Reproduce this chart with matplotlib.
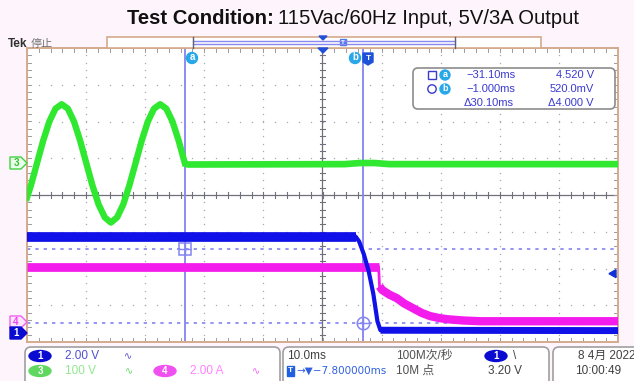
import numpy as np
import matplotlib.pyplot as plt
from matplotlib.patches import FancyBboxPatch, Rectangle, Circle, Ellipse, Polygon

plt.rcParams['font.family'] = ['Liberation Sans', 'Noto Sans CJK SC', 'DejaVu Sans']

W, H = 634, 381

# scope settings: units per division, ground position in divisions
ch1_scale, ch1_pos = 2.0, -3.74    # blue, output voltage (V)
ch3_scale, ch3_pos = 100.0, 0.87   # green, AC input (V)
ch4_scale, ch4_pos = 2.0, -3.46    # magenta, output current (A)
t_center, t_div = -7.8, 10.0       # ms

# waveforms, time in ms
ac_t = [-57.8, -57.14, -56.10, -55.06, -54.02, -52.98, -51.93, -50.89, -49.85,
        -48.81, -47.77, -46.73, -45.68, -44.64, -43.60, -42.56, -41.52, -40.48,
        -39.43, -38.39, -37.35, -36.31, -35.27, -34.23, -33.18, -32.14, -31.10]
ac_v = [-94, -61, 0, 61, 113, 148, 160, 148, 113, 61, 0, -61, -113, -148, -162,
        -148, -113, -61, 0, 61, 113, 148, 160, 148, 113, 61, 0]
ac_off_t = [-31.1, -30.5, -4.0, -1.5, 1.0, 3.5, 42.2]
ac_off_v = [-2, -4, -3, 0, 0, -3, -3]

vout_t = [-57.8, -2.2, -1.6, -0.8, 0.0, 0.8, 1.5, 2.0, 42.2]
vout_v = [5.22, 5.22, 4.95, 4.25, 3.35, 2.1, 0.6, 0.12, 0.1]

iout_t = [-57.8, 1.7, 1.85, 2.3, 3.5, 4.8, 6.0, 7.5, 9.0, 10.4, 12.0, 13.3, 16.0, 19.0, 42.2]
iout_a = [3.0, 3.0, 1.95, 1.75, 1.5, 1.3, 1.02, 0.76, 0.5, 0.33, 0.22, 0.16, 0.09, 0.05, 0.05]

# cursors
cur_a_t, cur_b_t = -31.1, -1.0
cur_a_v, cur_b_v = 4.52, 0.52
trig_level = 3.20

BLUE = '#1010e8'
GREEN = '#30e830'
MAGENTA = '#f41cec'
CURSOR = '#8484f2'


def div(vals, scale, pos):
    return np.asarray(vals, dtype=float) / scale + pos


fig = plt.figure(figsize=(W / 100, H / 100), dpi=100, facecolor='#fdf5fb')

x0, x1, y0, y1 = 27, 618, 48, 342
ax = fig.add_axes([x0 / W, 1 - y1 / H, (x1 - x0) / W, (y1 - y0) / H])
xmin, xmax = t_center - 5 * t_div, t_center + 5 * t_div
ax.set_xlim(xmin, xmax)
ax.set_ylim(-4, 4)
ax.set_xticks([])
ax.set_yticks([])
for s in ax.spines.values():
    s.set_color('#d4aa8c')
    s.set_linewidth(1.4)

# graticule
ym = np.arange(-4, 4.001, 0.2)
xm = np.arange(xmin, xmax + 0.001, t_div / 5)
for k in range(1, 10):
    if k == 5:
        continue
    ax.plot([xmin + k * t_div] * len(ym), ym, ls='none', marker='s', ms=0.9,
            mew=0, color='#a8a8b0', zorder=1)
for k in range(-3, 4):
    if k == 0:
        continue
    ax.plot(xm, [k] * len(xm), ls='none', marker='s', ms=0.9, mew=0,
            color='#a8a8b0', zorder=1)
ax.axvline(t_center, color='#70707c', lw=0.9, zorder=1)
ax.axhline(0, color='#70707c', lw=0.9, zorder=1)
for y in ym:
    ax.plot([t_center - 0.5, t_center + 0.5], [y, y], color='#70707c', lw=0.8, zorder=1)
    ax.plot([xmin, xmin + 0.6], [y, y], color='#9a9aa0', lw=0.7, zorder=1)
    ax.plot([xmax - 0.6, xmax], [y, y], color='#9a9aa0', lw=0.7, zorder=1)
for x in xm:
    ax.plot([x, x], [-0.08, 0.08], color='#70707c', lw=0.8, zorder=1)
    ax.plot([x, x], [3.9, 4], color='#9a9aa0', lw=0.7, zorder=1)
    ax.plot([x, x], [-4, -3.9], color='#9a9aa0', lw=0.7, zorder=1)

# cursors
ax.axvline(cur_a_t, color=CURSOR, lw=1.3, zorder=2)
ax.axvline(cur_b_t, color=CURSOR, lw=1.3, zorder=2)
ya = cur_a_v / ch1_scale + ch1_pos
yb = cur_b_v / ch1_scale + ch1_pos
ax.axhline(ya, color=CURSOR, lw=1.2, ls=(0, (2, 3)), zorder=2)
ax.axhline(yb, color=CURSOR, lw=1.2, ls=(0, (2, 3)), zorder=2)

# waveforms
g = div(ac_v, ch3_scale, ch3_pos)
ax.plot(ac_t, g, color=GREEN, lw=4.6, solid_joinstyle='round', zorder=3)
ax.plot(ac_off_t, div(ac_off_v, ch3_scale, ch3_pos), color=GREEN, lw=4.8,
        solid_capstyle='butt', zorder=3)

m = div(iout_a, ch4_scale, ch4_pos)
ax.plot(iout_t[1:3], m[1:3], color=MAGENTA, lw=2.0, zorder=4)
ax.plot(iout_t[:2], m[:2], color=MAGENTA, lw=6.3, solid_capstyle='butt', zorder=4)
ax.plot(iout_t[2:], m[2:], color=MAGENTA, lw=6.0, solid_capstyle='butt', zorder=4)

b = div(vout_v, ch1_scale, ch1_pos)
ax.plot(vout_t[1:-1], b[1:-1], color=BLUE, lw=3.0, solid_capstyle='round', zorder=5)
ax.plot(vout_t[:2], b[:2], color=BLUE, lw=7.0, solid_capstyle='butt', zorder=5)
ax.plot(vout_t[-2:], b[-2:], color=BLUE, lw=5.0, solid_capstyle='butt', zorder=5)

# cursor intersection marks
ax.plot(cur_a_t, ya, marker='s', ms=8, mfc='none', mec=CURSOR, mew=1.1, zorder=6)
ax.plot(cur_a_t, ya, marker='+', ms=8, mec=CURSOR, mew=1.0, zorder=6)
ax.plot(cur_b_t, yb, marker='o', ms=9, mfc='none', mec=CURSOR, mew=1.1, zorder=6)
ax.plot(cur_b_t, yb, marker='+', ms=9, mec=CURSOR, mew=1.0, zorder=6)

# overlay in pixel coordinates
ov = fig.add_axes([0, 0, 1, 1], facecolor='none', zorder=10)
ov.set_xlim(0, W)
ov.set_ylim(H, 0)
ov.axis('off')

# title
t1 = ov.text(127, 18, 'Test Condition:', fontsize=14.6, fontweight='bold',
             va='center', ha='left', color='#111111')
fig.canvas.draw()
bb = t1.get_window_extent()
ov.text(bb.x1 + 4, 18, '115Vac/60Hz Input, 5V/3A Output', fontsize=14.6,
        va='center', ha='left', color='#111111')

# top bar
ov.text(8, 44, 'Tek', fontsize=8.5, fontweight='bold', color='#303030', va='center')
ov.text(31, 44, '停止', fontsize=8, color='#707070', va='center')
ov.add_patch(Rectangle((107, 37), 434, 11, facecolor='white', edgecolor='#d4aa8c', lw=1.2))
ov.plot([193, 455], [40.5, 40.5], color='#8888f0', lw=1.0)
ov.plot([193, 455], [43.5, 43.5], color='#8888f0', lw=1.0)
ov.plot([193, 193], [37, 48], color='#606070', lw=1.0)
ov.plot([455, 455], [37, 48], color='#606070', lw=1.0)
ov.add_patch(Polygon([[319, 36], [327, 36], [323, 40]], color='#2050d8'))
ov.add_patch(Rectangle((340, 39), 6, 6, color='#4a7ae8'))
ov.text(343, 42, 'T', fontsize=4.5, color='white', ha='center', va='center', fontweight='bold')
ov.add_patch(Polygon([[318, 48], [328, 48], [323, 53]], color='#2050d8', zorder=3))

# cursor labels
for cx, lab in [(192, 'a'), (355, 'b')]:
    ov.add_patch(Circle((cx, 58), 5.5, color='#28a8e8'))
    ov.text(cx, 57.5, lab, fontsize=7, color='white', fontweight='bold',
            ha='center', va='center')
ov.add_patch(Polygon([[363, 53], [373, 53], [373, 62], [368, 65], [363, 62]], color='#1e50d8'))
ov.text(368, 58.5, 'T', fontsize=6, color='white', fontweight='bold', ha='center', va='center')

# readout box
ov.add_patch(FancyBboxPatch((413, 68), 202, 41, boxstyle='round,pad=0,rounding_size=5',
                            facecolor='white', edgecolor='#8c8c8c', lw=1.2))
RC = '#3a3ad0'
ov.add_patch(Rectangle((428, 71), 8, 8, facecolor='none', edgecolor=RC, lw=1.0))
ov.add_patch(Circle((432, 89), 4.2, facecolor='none', edgecolor=RC, lw=1.0))
for cy, lab in [(75, 'a'), (89, 'b')]:
    ov.add_patch(Circle((445, cy), 5, color='#28a8e8'))
    ov.text(445, cy - 0.5, lab, fontsize=6.5, color='white', fontweight='bold',
            ha='center', va='center')
rows = [('\u221231.10ms', '4.520 V'), ('\u22121.000ms', '520.0mV'),
        ('\u039430.10ms', '\u03944.000 V')]
for i, (l, r) in enumerate(rows):
    cy = 75 + 14 * i
    ov.text(466 if i < 2 else 464, cy, l, fontsize=8, color=RC, va='center', ha='left')
    ov.text(594, cy, r, fontsize=8, color=RC, va='center', ha='right')

# channel markers on the left
def marker(y, face, edge, label, tc):
    ov.add_patch(Polygon([[10, y - 6], [21, y - 6], [27, y], [21, y + 6], [10, y + 6]],
                         facecolor=face, edgecolor=edge, lw=1.0))
    ov.text(16, y, label, fontsize=7, color=tc, ha='center', va='center', fontweight='bold')

marker(163, '#eaffea', '#40d040', '3', '#30c030')
marker(322, '#ffe6ff', '#f060f0', '4', '#f040f0')
marker(333, '#0a0ad0', '#0a0ad0', '1', 'white')

# trigger level arrow on the right
ty = 195 - (trig_level / ch1_scale + ch1_pos) * 36.75
ov.add_patch(Polygon([[609, ty], [616, ty - 4], [616, ty + 4]], color='#1030d8'))

# bottom status panel
for bx, bw in [(25, 255), (283, 266), (553, 100)]:
    ov.add_patch(FancyBboxPatch((bx, 347), bw, 40, boxstyle='round,pad=0,rounding_size=6',
                                facecolor='white', edgecolor='#a0a0a0', lw=1.2))

def pill(x, y, face, label):
    ov.add_patch(Ellipse((x, y), 22, 11, color=face))
    ov.text(x, y, label, fontsize=7, color='white', fontweight='bold', ha='center', va='center')

r1, r2 = 356, 371
pill(40, r1, '#0a0ad0', '1')
ov.text(65, r1, '2.00 V', fontsize=8.5, color='#5050d0', va='center')
ov.text(124, r1, '\u223f', fontsize=7, color='#5050d0', va='center', family='DejaVu Sans')
pill(40, r2, '#60d860', '3')
ov.text(65, r2, '100 V', fontsize=8.5, color='#90e890', va='center')
ov.text(125, r2, '\u223f', fontsize=7, color='#60d860', va='center', family='DejaVu Sans')
pill(165, r2, '#f050f0', '4')
ov.text(190, r2, '2.00 A', fontsize=8.5, color='#ff80ff', va='center')
ov.text(252, r2, '\u223f', fontsize=7, color='#f060f0', va='center', family='DejaVu Sans')

ov.text(287, r1, '10.0ms', fontsize=8.5, color='#404040', va='center')
ov.add_patch(Rectangle((287, r2 - 5), 7, 10, color='#2060e0'))
ov.text(290.5, r2, 'T', fontsize=6, color='white', fontweight='bold', ha='center', va='center')
ov.text(296, r2, '\u2192\u25bc\u22127.800000ms', fontsize=7.5, color='#3060e0', va='center',
        family=['DejaVu Sans'])
ov.text(396, r1, '100M次/秒', fontsize=8.5, color='#505050', va='center')
ov.text(396, r2, '10M 点', fontsize=8.5, color='#505050', va='center')
pill(496, r1, '#0a0ad0', '1')
ov.text(513, r1, '\\', fontsize=8.5, color='#404040', va='center')
ov.text(488, r2, '3.20 V', fontsize=8.5, color='#404040', va='center')
ov.text(578, r1, '8 4月 2022', fontsize=8.5, color='#404040', va='center')
ov.text(575, r2, '10:00:49', fontsize=8.5, color='#404040', va='center')

fig.savefig('out.png', dpi=100)
